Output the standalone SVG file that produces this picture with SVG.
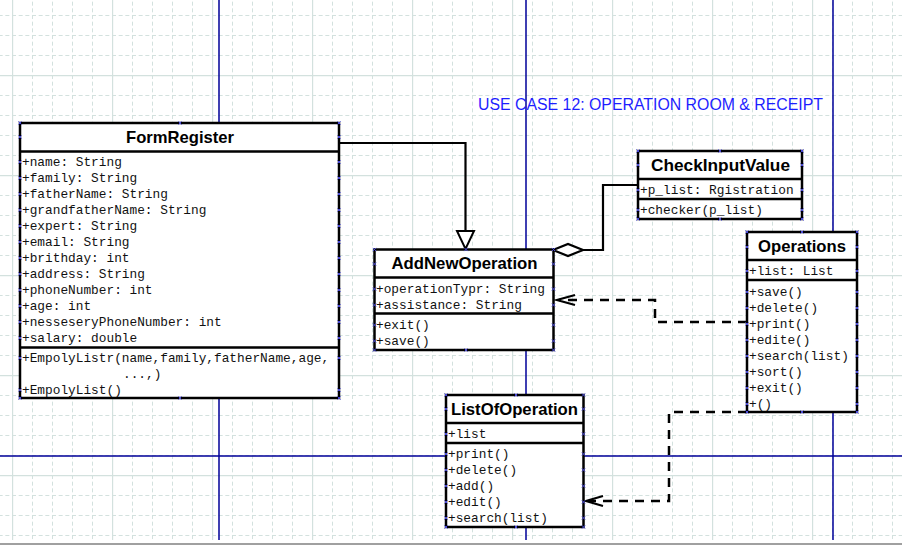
<svg xmlns="http://www.w3.org/2000/svg" xmlns:xlink="http://www.w3.org/1999/xlink" width="902" height="545" viewBox="0 0 902 545">
<style>
.box{fill:#fff;stroke:#000;stroke-width:2.5}
.sep{stroke:#000;stroke-width:2.5}
.ttl{font-family:"Liberation Sans",Arial,sans-serif;font-weight:bold;font-size:16.5px;fill:#000;text-anchor:middle}
.mem{font-family:"Liberation Mono","Courier New",monospace;font-size:12.8px;fill:#111}
.axis{stroke:#000099;stroke-width:1.5;fill:none}
.solid{stroke:#000;stroke-width:2.2;fill:none}
.dash{stroke:#000;stroke-width:2.5;fill:none;stroke-dasharray:9 7}
.head{stroke:#000;stroke-width:2.2;fill:none}
.mk{stroke:#4a4ad6;stroke-width:1;fill:none}
</style>
<defs>
<pattern id="minor" x="12" y="15" width="20" height="20" patternUnits="userSpaceOnUse">
<path d="M0.5,0V20M0,0.5H20" stroke="#d3e1de" stroke-width="1" stroke-dasharray="4 2.667"/>
</pattern>
<pattern id="major" x="12" y="75" width="100" height="100" patternUnits="userSpaceOnUse">
<path d="M0.6,0V100M0,0.6H100" stroke="#d3e1de" stroke-width="1.2"/>
</pattern>
<path id="m" class="mk" d="M-1.6,-1.6L1.6,1.6M-1.6,1.6L1.6,-1.6"/>
</defs>
<rect x="0" y="0" width="902" height="545" fill="#fff"/>
<g id="grid">
<rect x="0" y="0" width="902" height="540" fill="url(#minor)"/>
<rect x="0" y="0" width="902" height="540" fill="url(#major)"/>
<path class="axis" d="M219,0V540M526,0V540M833,0V540M0,456H902"/>
<rect x="0" y="543" width="902" height="2" fill="#a0a0a0"/>
</g>
<text id="usecase" x="478" y="110" font-family="Liberation Sans,Arial,sans-serif" font-size="16" fill="#1e1eff" textLength="345" lengthAdjust="spacingAndGlyphs">USE CASE 12: OPERATION ROOM &amp; RECEIPT</text>
<g id="connectors">
<path class="solid" d="M339,143H465.5V231"/>
<polygon points="457,231 474,231 465.5,249" fill="#fff" stroke="#000" stroke-width="2"/>
<polygon points="553,250 568,244 583,250 568,256" fill="#fff" stroke="#000" stroke-width="2.2"/>
<path class="solid" d="M583,250H603V185H638"/>
<path class="dash" d="M747,322H655V300H559"/>
<path class="head" d="M575,295L557,300L575,305"/>
<path class="dash" d="M747,412H669V501H589"/>
<path class="head" d="M603,496L586,501L603,506"/>
</g>
<g id="FormRegister">
<rect class="box" x="20" y="123" width="319" height="275"/>
<path class="sep" d="M20,151.5H339M20,347.5H339"/>
<text class="ttl" x="180" y="143" textLength="108" lengthAdjust="spacingAndGlyphs">FormRegister</text>
<text class="mem" x="22" y="166">+name: String</text>
<text class="mem" x="22" y="182">+family: String</text>
<text class="mem" x="22" y="198">+fatherName: String</text>
<text class="mem" x="22" y="214">+grandfatherName: String</text>
<text class="mem" x="22" y="230">+expert: String</text>
<text class="mem" x="22" y="246">+email: String</text>
<text class="mem" x="22" y="262">+brithday: int</text>
<text class="mem" x="22" y="278">+address: String</text>
<text class="mem" x="22" y="294">+phoneNumber: int</text>
<text class="mem" x="22" y="310">+age: int</text>
<text class="mem" x="22" y="326">+nesseseryPhoneNumber: int</text>
<text class="mem" x="22" y="342">+salary: double</text>
<text class="mem" x="22" y="362">+EmpolyListr(name,family,fatherName,age,</text>
<text class="mem" x="123" y="378">...,)</text>
<text class="mem" x="22" y="394">+EmpolyList()</text>
<use href="#m" x="20" y="123"/><use href="#m" x="180" y="123"/><use href="#m" x="339" y="123"/>
<use href="#m" x="20" y="398"/><use href="#m" x="180" y="398"/><use href="#m" x="339" y="398"/>
<use href="#m" x="20" y="137"/><use href="#m" x="339" y="137"/>
<use href="#m" x="20" y="162"/><use href="#m" x="339" y="162"/>
<use href="#m" x="20" y="178"/><use href="#m" x="339" y="178"/>
<use href="#m" x="20" y="194"/><use href="#m" x="339" y="194"/>
<use href="#m" x="20" y="210"/><use href="#m" x="339" y="210"/>
<use href="#m" x="20" y="226"/><use href="#m" x="339" y="226"/>
<use href="#m" x="20" y="242"/><use href="#m" x="339" y="242"/>
<use href="#m" x="20" y="258"/><use href="#m" x="339" y="258"/>
<use href="#m" x="20" y="274"/><use href="#m" x="339" y="274"/>
<use href="#m" x="20" y="290"/><use href="#m" x="339" y="290"/>
<use href="#m" x="20" y="306"/><use href="#m" x="339" y="306"/>
<use href="#m" x="20" y="322"/><use href="#m" x="339" y="322"/>
<use href="#m" x="20" y="338"/><use href="#m" x="339" y="338"/>
<use href="#m" x="20" y="358"/><use href="#m" x="339" y="358"/>
<use href="#m" x="20" y="390"/><use href="#m" x="339" y="390"/>
</g>
<g id="AddNewOperation">
<rect class="box" x="374.5" y="249.5" width="179" height="100.5"/>
<path class="sep" d="M374.5,277.5H553.5M374.5,313.5H553.5"/>
<text class="ttl" x="464.5" y="269" textLength="146" lengthAdjust="spacingAndGlyphs">AddNewOperation</text>
<text class="mem" x="376" y="293">+operationTypr: String</text>
<text class="mem" x="376" y="309">+assistance: String</text>
<text class="mem" x="376" y="329">+exit()</text>
<text class="mem" x="376" y="345">+save()</text>
<use href="#m" x="374.5" y="249.5"/><use href="#m" x="466" y="249.5"/><use href="#m" x="553.5" y="249.5"/>
<use href="#m" x="374.5" y="350"/><use href="#m" x="466" y="350"/><use href="#m" x="553.5" y="350"/>
<use href="#m" x="374.5" y="264"/><use href="#m" x="553.5" y="264"/>
<use href="#m" x="374.5" y="289"/><use href="#m" x="553.5" y="289"/>
<use href="#m" x="374.5" y="305"/><use href="#m" x="553.5" y="305"/>
<use href="#m" x="374.5" y="325"/><use href="#m" x="553.5" y="325"/>
<use href="#m" x="374.5" y="341"/><use href="#m" x="553.5" y="341"/>
</g>
<g id="CheckInputValue">
<rect class="box" x="638" y="151" width="164" height="68"/>
<path class="sep" d="M638,179H802M638,199H802"/>
<text class="ttl" x="720.5" y="171" textLength="139" lengthAdjust="spacingAndGlyphs">CheckInputValue</text>
<text class="mem" x="640" y="194">+p_list: Rgistration</text>
<text class="mem" x="640" y="214">+checker(p_list)</text>
<use href="#m" x="638" y="151"/><use href="#m" x="720" y="151"/><use href="#m" x="802" y="151"/>
<use href="#m" x="638" y="219"/><use href="#m" x="720" y="219"/><use href="#m" x="802" y="219"/>
<use href="#m" x="638" y="165"/><use href="#m" x="802" y="165"/>
<use href="#m" x="638" y="190"/><use href="#m" x="802" y="190"/>
<use href="#m" x="638" y="210"/><use href="#m" x="802" y="210"/>
</g>
<g id="Operations">
<rect class="box" x="747" y="232" width="110" height="180"/>
<path class="sep" d="M747,260H857M747,280H857"/>
<text class="ttl" x="802" y="252" textLength="88" lengthAdjust="spacingAndGlyphs">Operations</text>
<text class="mem" x="749" y="275">+list: List</text>
<text class="mem" x="749" y="296">+save()</text>
<text class="mem" x="749" y="312">+delete()</text>
<text class="mem" x="749" y="328">+print()</text>
<text class="mem" x="749" y="344">+edite()</text>
<text class="mem" x="749" y="360">+search(list)</text>
<text class="mem" x="749" y="376">+sort()</text>
<text class="mem" x="749" y="392">+exit()</text>
<text class="mem" x="749" y="408">+()</text>
<use href="#m" x="747" y="232"/><use href="#m" x="802" y="232"/><use href="#m" x="857" y="232"/>
<use href="#m" x="747" y="412"/><use href="#m" x="802" y="412"/><use href="#m" x="857" y="412"/>
<use href="#m" x="747" y="247"/><use href="#m" x="857" y="247"/>
<use href="#m" x="747" y="271"/><use href="#m" x="857" y="271"/>
<use href="#m" x="747" y="292"/><use href="#m" x="857" y="292"/>
<use href="#m" x="747" y="308"/><use href="#m" x="857" y="308"/>
<use href="#m" x="747" y="324"/><use href="#m" x="857" y="324"/>
<use href="#m" x="747" y="340"/><use href="#m" x="857" y="340"/>
<use href="#m" x="747" y="356"/><use href="#m" x="857" y="356"/>
<use href="#m" x="747" y="372"/><use href="#m" x="857" y="372"/>
<use href="#m" x="747" y="388"/><use href="#m" x="857" y="388"/>
<use href="#m" x="747" y="404"/><use href="#m" x="857" y="404"/>
</g>
<g id="ListOfOperation">
<rect class="box" x="446" y="395" width="137.5" height="132"/>
<path class="sep" d="M446,423H583.5M446,443H583.5"/>
<text class="ttl" x="514.5" y="415" textLength="127" lengthAdjust="spacingAndGlyphs">ListOfOperation</text>
<text class="mem" x="448" y="438">+list</text>
<text class="mem" x="448" y="458">+print()</text>
<text class="mem" x="448" y="474">+delete()</text>
<text class="mem" x="448" y="490">+add()</text>
<text class="mem" x="448" y="506">+edit()</text>
<text class="mem" x="448" y="522">+search(list)</text>
<use href="#m" x="446" y="395"/><use href="#m" x="516" y="395"/><use href="#m" x="583.5" y="395"/>
<use href="#m" x="446" y="527"/><use href="#m" x="516" y="527"/><use href="#m" x="583.5" y="527"/>
<use href="#m" x="446" y="409"/><use href="#m" x="583.5" y="409"/>
<use href="#m" x="446" y="434"/><use href="#m" x="583.5" y="434"/>
<use href="#m" x="446" y="454"/><use href="#m" x="583.5" y="454"/>
<use href="#m" x="446" y="470"/><use href="#m" x="583.5" y="470"/>
<use href="#m" x="446" y="486"/><use href="#m" x="583.5" y="486"/>
<use href="#m" x="446" y="502"/><use href="#m" x="583.5" y="502"/>
<use href="#m" x="446" y="518"/><use href="#m" x="583.5" y="518"/>
</g>
</svg>
